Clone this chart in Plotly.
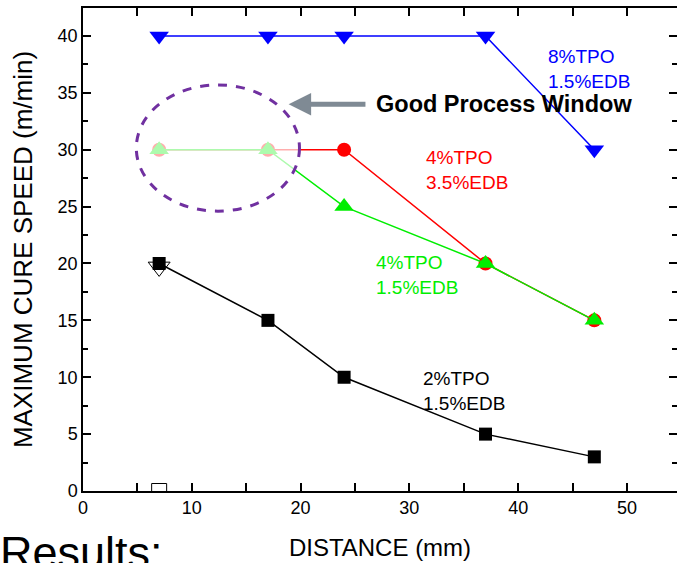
import plotly.graph_objects as go

# Cure speed versus distance for four photoinitiator formulations
distance = [7, 17, 24, 37, 47]
speed_8tpo_15edb = [40, 40, 40, 40, 30]
speed_4tpo_35edb = [30, 30, 30, 20, 15]
speed_4tpo_15edb = [30, 30, 25, 20, 15]
speed_2tpo_15edb = [20, 15, 10, 5, 3]

# Single open-marker reference points at the first distance
open_tri_x = [7]
open_tri_y = [19.7]
open_sq_x = [7]
open_sq_y = [0]

FONT = "Arial, Liberation Sans, sans-serif"
BLUE = "#0000ff"
RED = "#ff0000"
GREEN = "#00ee00"
BLACK = "#000000"

fig = go.Figure()

fig.add_trace(go.Scatter(
    x=open_sq_x, y=open_sq_y, mode="markers",
    marker=dict(symbol="square", size=15, color="white",
                line=dict(color=BLACK, width=1)),
    showlegend=False, cliponaxis=True))
fig.add_trace(go.Scatter(
    x=open_tri_x, y=open_tri_y, mode="markers",
    marker=dict(symbol="triangle-down", size=19, color="white",
                line=dict(color=BLACK, width=1)),
    showlegend=False))

fig.add_trace(go.Scatter(
    x=distance, y=speed_2tpo_15edb, mode="lines+markers",
    line=dict(color=BLACK, width=1.5),
    marker=dict(symbol="square", size=13, color=BLACK),
    showlegend=False))
fig.add_trace(go.Scatter(
    x=distance, y=speed_4tpo_35edb, mode="lines+markers",
    line=dict(color=RED, width=1.5),
    marker=dict(symbol="circle", size=14, color=RED),
    showlegend=False))
fig.add_trace(go.Scatter(
    x=distance, y=speed_4tpo_15edb, mode="lines+markers",
    line=dict(color=GREEN, width=1.5),
    marker=dict(symbol="triangle-up", size=17, color=GREEN),
    showlegend=False))
fig.add_trace(go.Scatter(
    x=distance, y=speed_8tpo_15edb, mode="lines+markers",
    line=dict(color=BLUE, width=1.5),
    marker=dict(symbol="triangle-down", size=17, color=BLUE),
    showlegend=False))

# invisible trace so the right-hand tick axis is drawn
fig.add_trace(go.Scatter(x=[0], y=[0], yaxis="y2", mode="markers",
                         marker=dict(opacity=0), showlegend=False,
                         hoverinfo="skip"))

# Good process window: translucent ellipse over the low-distance points
fig.add_shape(type="circle", xref="x", yref="y",
              x0=4.9, x1=19.9, y0=24.6, y1=35.7,
              fillcolor="rgba(255,255,255,0.68)",
              line=dict(color="#7030a0", width=3, dash="dash"),
              layer="above")

annotations = [
    dict(x=26.75, y=34.0, xref="x", yref="y", text="<b>Good Process Window</b>",
         xanchor="left", yanchor="middle", showarrow=False,
         font=dict(family=FONT, size=23.5, color=BLACK)),
    dict(x=18.9, y=34.0, ax=26.1, ay=34.0, xref="x", yref="y",
         axref="x", ayref="y", text="", showarrow=True,
         arrowhead=2, arrowsize=0.9, arrowwidth=5, arrowcolor="#7f8a94"),
    dict(x=42.55, y=39.3, xref="x", yref="y", text="8%TPO<br>1.5%EDB",
         xanchor="left", yanchor="top", showarrow=False, align="left",
         font=dict(family=FONT, size=19, color=BLUE)),
    dict(x=31.34, y=30.4, xref="x", yref="y", text="4%TPO<br>3.5%EDB",
         xanchor="left", yanchor="top", showarrow=False, align="left",
         font=dict(family=FONT, size=19, color=RED)),
    dict(x=26.75, y=21.2, xref="x", yref="y", text="4%TPO<br>1.5%EDB",
         xanchor="left", yanchor="top", showarrow=False, align="left",
         font=dict(family=FONT, size=19, color=GREEN)),
    dict(x=31.07, y=11.0, xref="x", yref="y", text="2%TPO<br>1.5%EDB",
         xanchor="left", yanchor="top", showarrow=False, align="left",
         font=dict(family=FONT, size=19, color=BLACK)),
    dict(x=-85 / 594, y=-34 / 483, xref="paper", yref="paper", text="Results:",
         xanchor="left", yanchor="top", showarrow=False,
         font=dict(family=FONT, size=45, color=BLACK)),
]

fig.update_layout(
    width=677, height=563,
    margin=dict(l=83, r=0, t=8, b=72),
    paper_bgcolor="white", plot_bgcolor="white",
    font=dict(family=FONT, color=BLACK),
    annotations=annotations,
    xaxis=dict(
        range=[0, 54.6], dtick=10, tick0=0,
        ticks="inside", ticklen=8, tickwidth=1.5, tickcolor=BLACK,
        minor=dict(ticks="inside", dtick=5, ticklen=5, tickwidth=1.5,
                   tickcolor=BLACK),
        showline=True, linecolor=BLACK, linewidth=1.5, mirror="allticks",
        showgrid=False, zeroline=False,
        tickfont=dict(family=FONT, size=18, color=BLACK),
        title=dict(text="DISTANCE (mm)", standoff=22,
                   font=dict(family=FONT, size=24, color=BLACK)),
    ),
    yaxis=dict(
        range=[0, 42.46], dtick=5, tick0=0,
        ticks="inside", ticklen=8, tickwidth=1.5, tickcolor=BLACK,
        minor=dict(ticks="inside", dtick=2.5, ticklen=5, tickwidth=1.5,
                   tickcolor=BLACK),
        showline=True, linecolor=BLACK, linewidth=1.5,
        showgrid=False, zeroline=False,
        tickfont=dict(family=FONT, size=18, color=BLACK),
        title=dict(text="MAXIMUM CURE SPEED (m/min)", standoff=18,
                   font=dict(family=FONT, size=26, color=BLACK)),
    ),
    yaxis2=dict(
        range=[0, 42.46], dtick=5, tick0=0, overlaying="y", side="right",
        anchor="x", showline=False, showgrid=False, zeroline=False,
        showticklabels=False,
        ticks="inside", ticklen=8, tickwidth=1.5, tickcolor=BLACK,
        minor=dict(ticks="inside", dtick=2.5, ticklen=5, tickwidth=1.5,
                   tickcolor=BLACK),
    ),
)

fig.write_html("out.html")
